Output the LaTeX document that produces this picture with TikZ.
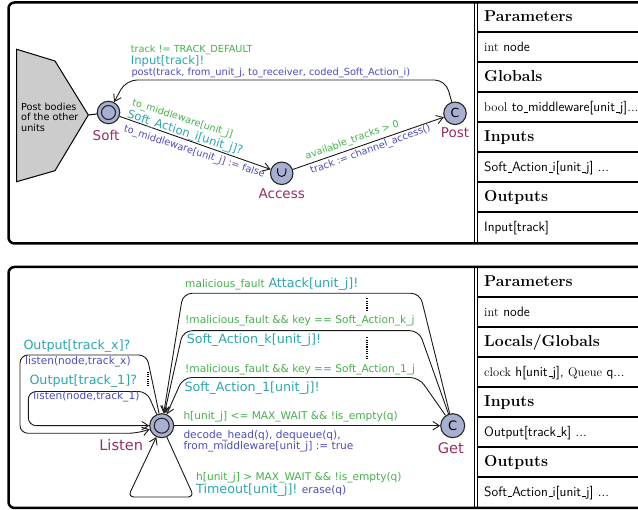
\documentclass[tikz,border=0pt]{standalone}
\usepackage{fontspec}
\newfontfamily\djv{DejaVu Sans}
\usetikzlibrary{arrows.meta}
\definecolor{cguard}{RGB}{70,175,75}
\definecolor{csync}{RGB}{45,165,175}
\definecolor{cupd}{RGB}{75,75,185}
\definecolor{cname}{RGB}{155,45,95}
\definecolor{cloc}{RGB}{168,176,210}
\definecolor{cpoly}{RGB}{204,204,204}
\newcommand{\tus}{\leavevmode\kern.06em\vbox{\hrule width.3em}}
\newcommand{\tsr}[1]{{\rmfamily\fontsize{12.5}{14}\selectfont #1}}
\tikzset{
  loc/.style={circle, draw=black!85, fill=cloc, line width=1.1pt, minimum size=22.5pt, inner sep=0pt},
  locb/.style={loc, minimum size=24pt},
  locring/.style={draw=black!85, line width=1.1pt},
  trans/.style={draw=black!90, line width=0.9pt, -{Straight Barb[length=6.5pt,width=8.5pt]}},
  ntxt/.style={font=\djv\fontsize{13.5}{14}\selectfont, text=cname, inner sep=0pt},
  gtxt/.style={font=\djv\fontsize{9.7}{11}\selectfont, text=cguard, inner sep=0pt},
  stxt/.style={font=\djv\fontsize{11.6}{13}\selectfont, text=csync, inner sep=0pt},
  utxt/.style={font=\djv\fontsize{9.8}{11}\selectfont, text=cupd, inner sep=0pt},
  ntxtb/.style={ntxt, font=\djv\fontsize{14.6}{15}\selectfont},
  gtxtb/.style={gtxt, font=\djv\fontsize{10.6}{12}\selectfont},
  stxtb/.style={stxt, font=\djv\fontsize{12.7}{14}\selectfont},
  utxtb/.style={utxt, font=\djv\fontsize{10.6}{12}\selectfont},
  frame/.style={line width=2.5pt},
  tline/.style={line width=1.5pt},
  thead/.style={font=\fontsize{15.8}{17}\selectfont\bfseries, anchor=base west, inner sep=0pt},
  tcell/.style={font=\sffamily\fontsize{13.6}{16}\selectfont, anchor=base west, inner sep=0pt},
  dotv/.style={line width=1.7pt, dash pattern=on 1.1pt off 1.2pt},
}
\begin{document}
\begin{tikzpicture}[x=1pt,y=-1pt]
\useasboundingbox (0,0) rectangle (638,510);

% ---------- frames and tables ----------
\draw[frame] (641,2.5) [rounded corners=6pt] -- (8.5,2.5) -- (8.5,243.5) -- (641,243.5);
\draw[tline] (474.5,2.5) -- (474.5,243.5);
\draw[tline] (477.5,2.5) -- (477.5,243.5);
\foreach \yy in {32,62,92,122,152,182,212} \draw[tline] (477.5,\yy) -- (641,\yy);

\draw[frame] (641,267) [rounded corners=6pt] -- (8.5,267) -- (8.5,508) -- (641,508);
\draw[tline] (474.5,267) -- (474.5,508);
\draw[tline] (477.5,267) -- (477.5,508);
\foreach \yy in {297,327,357,387,417,447,477} \draw[tline] (477.5,\yy) -- (641,\yy);

\node[thead] (tpa) at (484,22) {Parameters};
\node[tcell] (tpb) at (484,52) {\tsr{int} node};
\node[thead] (tga) at (484,82) {Globals};
\node[tcell] (tgb) at (484,112) {\tsr{bool} to\tus middleware[unit\tus j]...};
\node[thead] (tia) at (484,142) {Inputs};
\node[tcell] (tib) at (484,172) {Soft\tus Action\tus i[unit\tus j] ...};
\node[thead] (toa) at (484,202) {Outputs};
\node[tcell] (tob) at (484,232) {Input[track]};

\node[thead] (bpa) at (484,286.7) {Parameters};
\node[tcell] (bpb) at (484,316.7) {\tsr{int} node};
\node[thead] (bga) at (484,346.7) {Locals/Globals};
\node[tcell] (bgb) at (484,376.7) {\tsr{clock} h[unit\tus j], \tsr{Queue} q...};
\node[thead] (bia) at (484,406.7) {Inputs};
\node[tcell] (bib) at (484,436.7) {Output[track\tus k] ...};
\node[thead] (boa) at (484,466.7) {Outputs};
\node[tcell] (bob) at (484,496.7) {Soft\tus Action\tus i[unit\tus j] ...};

% ---------- top automaton ----------
\draw[line width=1pt, fill=cpoly] (16.7,49.3) -- (55,61) -- (88.3,115) -- (55,170.7) -- (16.7,181.7) -- cycle;
\coordinate (tip) at (88.3,115);
\node[anchor=north west, align=left, inner sep=0pt, font=\djv\fontsize{9.7}{10.8}\selectfont] (polytxt) at (21,102.6) {Post bodies\\of the other\\units};

\node[loc] (soft) at (108.5,112.5) {};
\draw[locring] (soft.center) circle[radius=7pt];
\node[loc] (access) at (281.7,173.3) {};
\draw[line width=0.9pt] (277.6,168.3) -- (277.6,172.3) .. controls (277.6,177.8) and (285.8,177.8) .. (285.8,172.3) -- (285.8,168.3);
\node[loc] (post) at (455,113.3) {\djv\fontsize{12.5}{12.5}\selectfont C};

\node[ntxt, anchor=base] (softn) at (106,140.7) {Soft};
\node[ntxt, anchor=base] (accessn) at (281.7,198.3) {Access};
\node[ntxt, anchor=base] (postn) at (455,137.7) {Post};

\draw[line width=1pt] (tip) -- (soft);
\draw[trans] (soft) -- (access);
\draw[trans] (access) -- (post);
\draw[trans, rounded corners=11pt] (post) -- (445.5,80) -- (126,80) -- (soft);

\node[gtxt, anchor=base west] (g1) at (130.7,52.5) {track != TRACK\_DEFAULT};
\node[stxt, anchor=base west] (s1) at (130.7,65) {Input[track]!};
\node[utxt, anchor=base west] (u1) at (131.3,75.5) {post(track, from\_unit\_j, to\_receiver, coded\_Soft\_Action\_i)};

\node[gtxt, anchor=base west, rotate=-18] (g2) at (131.5,105) {to\_middleware[unit\_j]};
\node[stxt, anchor=base west, rotate=-18] (s2) at (126.5,117.5) {Soft\_Action\_i[unit\_j]?};
\node[utxt, anchor=base west, rotate=-18] (u2) at (123.3,131.7) {to\_middleware[unit\_j] := false};

\node[gtxt, anchor=base west, rotate=20] (g3) at (306.5,160) {available\_tracks > 0};
\node[utxt, anchor=base west, rotate=20] (u3) at (311.5,174) {track := channel\_access()};

% ---------- bottom automaton ----------
\node[locb] (listen) at (161.7,425.7) {};
\draw[locring] (listen.center) circle[radius=7.5pt];
\node[locb] (get) at (452.7,425.7) {\djv\fontsize{13}{13}\selectfont C};
\node[ntxtb, anchor=base east] (listenn) at (143.3,450.7) {Listen};
\node[ntxtb, anchor=base] (getn) at (450.8,453.3) {Get};

\draw[trans] (listen) -- (get);
\draw[trans, rounded corners=9pt] (get) -- (420,293.3) -- (183,293.3) -- (listen);
\draw[trans, rounded corners=9pt] (get) -- (419,330.7) -- (183,330.7) -- (listen);
\draw[trans, rounded corners=9pt] (get) -- (419,377.5) -- (183,377.5) -- (listen);

\draw[trans, rounded corners=8pt] (listen) -- (146.7,355) -- (20,355) -- (20,433.3) -- (136,433.3) -- (listen);
\draw[trans, rounded corners=8pt] (listen) -- (146.7,391.5) -- (28.3,391.5) -- (28.3,425.7) -- (listen);
\draw[trans, rounded corners=6pt] (listen) -- (194,497) -- (128,497) -- (listen);

\draw[dotv] (367.3,298.3) -- (367.3,310);
\draw[dotv] (367.3,337.3) -- (367.3,358.3);
\draw[dotv] (147.7,371.7) -- (147.7,386);

\node[gtxtb, anchor=base west] (ga) at (185,287.3) {malicious\_fault};
\node[stxtb, anchor=base west] (sa) at (268.3,287.3) {Attack[unit\_j]!};
\node[gtxtb, anchor=base west] (gk) at (185,324) {!malicious\_fault \&\& key == Soft\_Action\_k\_j};
\node[stxtb, anchor=base west] (sk) at (186.7,344) {Soft\_Action\_k[unit\_j]!};
\node[gtxtb, anchor=base west] (g1b) at (185,372.7) {!malicious\_fault \&\& key == Soft\_Action\_1\_j};
\node[stxtb, anchor=base west] (s1b) at (184.3,391.7) {Soft\_Action\_1[unit\_j]!};
\node[gtxtb, anchor=base west] (gg) at (183.3,419.3) {h[unit\_j] <= MAX\_WAIT \&\& !is\_empty(q)};
\node[utxtb, anchor=base west] (ug1) at (183.3,438.3) {decode\_head(q), dequeue(q),};
\node[utxtb, anchor=base west] (ug2) at (183.3,450) {from\_middleware[unit\_j] := true};
\node[gtxtb, anchor=base west] (gt) at (196,480.7) {h[unit\_j] > MAX\_WAIT \&\& !is\_empty(q)};
\node[stxtb, anchor=base west] (st) at (196,493.3) {Timeout[unit\_j]!};
\node[utxtb, anchor=base west] (ut) at (301.7,493.3) {erase(q)};

\node[stxtb, anchor=base west] (sx) at (23.3,350) {Output[track\_x]?};
\node[utxtb, anchor=base west] (ux) at (25,365) {listen(node,track\_x)};
\node[stxtb, anchor=base west] (s1l) at (29.3,385) {Output[track\_1]?};
\node[utxtb, anchor=base west] (u1l) at (33.3,400) {listen(node,track\_1)};
\end{tikzpicture}
\end{document}
